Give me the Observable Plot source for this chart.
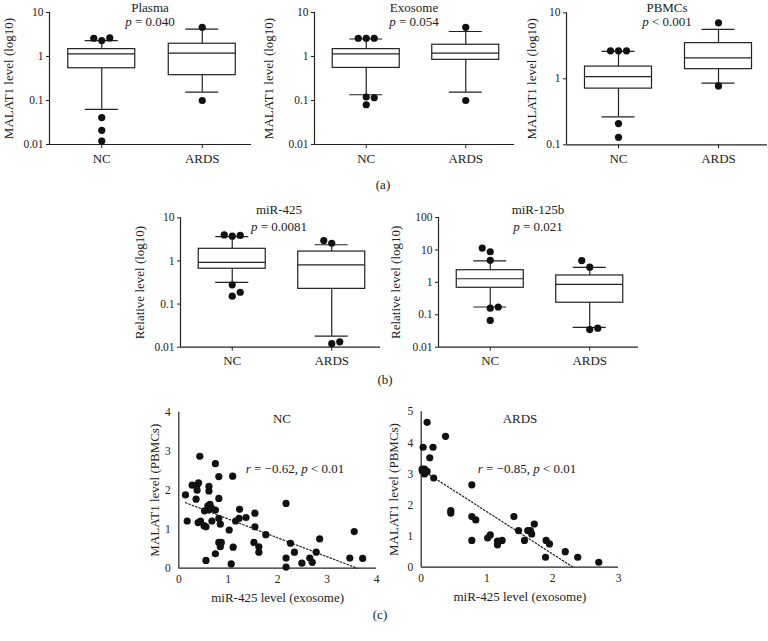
<!DOCTYPE html>
<html><head><meta charset="utf-8">
<script src="https://cdn.jsdelivr.net/npm/d3@7"></script>
<script src="https://cdn.jsdelivr.net/npm/@observablehq/plot@0.6"></script>
<style>
html,body{margin:0;padding:0;background:#fff;}
#chart{position:relative;width:768px;height:641px;overflow:hidden;font-family:"Liberation Serif","DejaVu Serif",serif;color:#222;background:#fff;}
#chart svg{position:absolute;left:0;top:0;}
#chart g[aria-label="y-axis tick label"]{font-size:11.5px;}
#chart svg.scat g[aria-label="x-axis tick label"]{font-size:11.5px;}
.lbl{position:absolute;transform:translate(-50%,-50%);white-space:nowrap;font-size:13px;line-height:1;color:#222;}
</style></head><body><div id="chart"></div>
<script>
// ---------- data ----------
const groups = ["NC", "ARDS"];
// box summaries per group: [lower whisker, Q1, median, Q3, upper whisker]
const plasmaBox   = [[0.063, 0.54, 1.15, 1.47, 2.3], [0.155, 0.376, 1.19, 1.95, 4.2]];
const plasmaOut   = [[2.3, 2.6, 2.65, 0.041, 0.021, 0.012], [4.6, 0.1]];
const exosomeBox  = [[0.135, 0.55, 1.15, 1.47, 2.5], [0.155, 0.84, 1.19, 1.85, 3.7]];
const exosomeOut  = [[2.6, 2.6, 2.6, 0.12, 0.115, 0.08], [4.6, 0.1]];
const pbmcBox     = [[0.265, 0.71, 1.08, 1.53, 2.6], [0.86, 1.4, 2.08, 3.47, 5.6]];
const pbmcOut     = [[2.65, 2.65, 2.65, 0.21, 0.13], [7.05, 0.78]];
const mir425Box   = [[0.32, 0.66, 0.93, 1.91, 3.68], [0.018, 0.225, 0.81, 1.65, 2.37]];
const mir425Out   = [[3.75, 4.0, 3.9, 0.28, 0.152, 0.188], [2.57, 2.97, 0.0121, 0.0133]];
const mir125bBox  = [[0.174, 0.68, 1.29, 2.37, 4.6], [0.041, 0.235, 0.86, 1.63, 2.88]];
const mir125bOut  = [[8.8, 11.4, 4.8, 0.16, 0.174, 0.067], [2.94, 4.7, 0.035, 0.0385]];

const ticksLog4 = [0.01, 0.1, 1, 10];
const ticksLog2 = [0.1, 1, 10];
const ticksLog5 = [0.01, 0.1, 1, 10, 100];

// scatter (c)
const ncX = [0.425,0.74,0.81,1.09,0.135,0.27,0.37,0.40,0.37,0.61,0.61,0.81,0.35,0.17,0.39,0.44,0.51,0.55,0.52,0.59,0.63,0.61,0.66,0.74,0.67,0.81,0.84,0.81,0.86,0.84,0.74,0.55,1.02,1.10,1.06,1.15,1.22,1.23,1.36,1.54,1.54,1.52,1.62,1.62,1.76,2.17,2.17,2.17,2.26,2.34,2.49,2.65,2.70,2.78,2.85,3.46,3.55,3.72];
const ncY = [2.87,2.68,2.35,2.36,1.88,2.13,2.13,2.19,2.0,2.1,1.98,1.79,1.77,1.21,1.17,1.21,1.09,1.06,1.47,1.60,1.64,1.49,1.54,1.49,1.21,1.28,1.13,0.66,0.66,0.55,0.37,0.20,0.98,0.54,0.11,1.21,1.28,1.51,1.30,1.41,1.06,0.66,0.55,0.41,0.86,1.66,0.26,0.03,0.64,0.41,0.13,0.26,0.15,0.41,0.75,0.26,0.94,0.25];
const ardsX = [0.09,0.37,0.03,0.18,0.13,0.015,0.05,0.09,0.05,0.19,0.015,0.066,0.77,0.45,0.45,0.77,0.83,0.77,1.01,1.05,1.16,1.16,1.23,1.41,1.48,1.57,1.62,1.66,1.68,1.72,1.90,1.95,1.89,2.19,2.38,2.70];
const ardsY = [4.66,4.21,3.86,3.86,3.52,3.16,3.16,3.08,3.0,2.87,3.1,3.05,2.65,1.82,1.74,1.63,1.52,0.86,0.94,1.04,0.84,0.72,0.86,1.63,1.18,0.86,1.18,1.18,1.07,1.39,0.86,0.75,0.32,0.50,0.32,0.16];
const ncFitX = [0.135, 3.61], ncFitY = [1.68, 0];
const ardsFitX = [0.12, 2.31], ardsFitY = [2.98, 0];

// ---------- layout ----------
const W = 768, H = 641;
const INK = "#222";
const FONT = '"Liberation Serif","DejaVu Serif",serif';
const chart = document.getElementById("chart");
const baseStyle = {fontFamily: FONT, fontSize: "13px", background: "transparent", color: "#222", overflow: "visible"};
const margins = f => ({marginLeft: f.left, marginRight: W - f.right, marginTop: f.top, marginBottom: H - f.bottom});

function boxPanel({frame, yDomain, yTicks, ylabel, labelOffset, box, out}) {
  const xDomain = [-0.52, 1.49];
  const unit = (frame.right - frame.left) / (xDomain[1] - xDomain[0]);
  const yS = d3.scaleLog().domain(yDomain).range([frame.bottom, frame.top]);
  const half = 33.5 / unit, cap = 16.5 / unit, step = 8 / unit;
  const stats = box.map((b, i) => ({i, lo: b[0], q1: b[1], med: b[2], q3: b[3], hi: b[4]}));
  const dots = [];
  out.forEach((vals, i) => {
    const placed = [];
    vals.forEach(v => {
      const py = yS(v);
      const dir = v > box[i][2] ? -1 : 1;
      let col = 0;
      for (const c of [0, dir, -dir, 2 * dir, -2 * dir]) {
        if (!placed.some(p => p.col === c && Math.abs(p.py - py) < 7)) { col = c; break; }
      }
      placed.push({col, py});
      dots.push({x: i + col * step, y: v});
    });
  });
  const line = {stroke: INK, strokeWidth: 1.2};
  return Plot.plot({
    width: W, height: H, ...margins(frame), style: baseStyle,
    x: {domain: xDomain, ticks: [0, 1], tickFormat: i => groups[i], tickSize: 4, tickPadding: 5, label: null},
    y: {type: "log", domain: yDomain, ticks: yTicks, tickFormat: d => String(d), tickSize: 3, tickPadding: 3,
        label: ylabel, labelAnchor: "center", labelOffset, labelArrow: "none"},
    marks: [
      Plot.ruleX([xDomain[0]], line),
      Plot.ruleY([yDomain[0]], line),
      Plot.ruleX(stats, {x: "i", y1: "q3", y2: "hi", ...line}),
      Plot.ruleX(stats, {x: "i", y1: "lo", y2: "q1", ...line}),
      Plot.ruleY(stats, {y: "hi", x1: d => d.i - cap, x2: d => d.i + cap, ...line}),
      Plot.ruleY(stats, {y: "lo", x1: d => d.i - cap, x2: d => d.i + cap, ...line}),
      Plot.rect(stats, {x1: d => d.i - half, x2: d => d.i + half, y1: "q1", y2: "q3", fill: "white", ...line}),
      Plot.ruleY(stats, {y: "med", x1: d => d.i - half, x2: d => d.i + half, ...line}),
      Plot.dot(dots, {x: "x", y: "y", r: 3.6, fill: "#111", stroke: "none"})
    ]
  });
}

function scatterPanel({frame, xDomain, yDomain, xs, ys, fx, fy, labelOffset}) {
  const pts = xs.map((x, i) => ({x, y: ys[i]}));
  const fit = fx.map((x, i) => ({x, y: fy[i]}));
  const line = {stroke: INK, strokeWidth: 1.2};
  const svg = Plot.plot({
    width: W, height: H, ...margins(frame), style: baseStyle,
    x: {domain: xDomain, ticks: d3.range(xDomain[0], xDomain[1] + 1), tickFormat: d => String(d), tickSize: 0, tickPadding: 7,
        label: "miR-425 level (exosome)", labelAnchor: "center", labelOffset: 34, labelArrow: "none"},
    y: {domain: yDomain, ticks: d3.range(yDomain[0], yDomain[1] + 1), tickFormat: d => String(d), tickSize: 0, tickPadding: 8,
        label: "MALAT1 level (PBMCs)", labelAnchor: "center", labelOffset, labelArrow: "none"},
    marks: [
      Plot.ruleX([xDomain[0]], line),
      Plot.ruleY([yDomain[0]], line),
      Plot.line(fit, {x: "x", y: "y", stroke: INK, strokeWidth: 1.2, strokeDasharray: "1.6,2"}),
      Plot.dot(pts, {x: "x", y: "y", r: 3.6, fill: "#111", stroke: "none"})
    ]
  });
  svg.classList.add("scat");
  return svg;
}

const panels = [
  boxPanel({frame: {left: 49, right: 251, top: 12, bottom: 144}, yDomain: [0.01, 10], yTicks: ticksLog4,
            ylabel: "MALAT1 level (log10)", labelOffset: 46, box: plasmaBox, out: plasmaOut}),
  boxPanel({frame: {left: 314, right: 514, top: 12, bottom: 144}, yDomain: [0.01, 10], yTicks: ticksLog4,
            ylabel: "MALAT1 level (log10)", labelOffset: 51, box: exosomeBox, out: exosomeOut}),
  boxPanel({frame: {left: 566, right: 767, top: 12.3, bottom: 144.3}, yDomain: [0.1, 10], yTicks: ticksLog2,
            ylabel: "MALAT1 level (log10)", labelOffset: 40, box: pbmcBox, out: pbmcOut}),
  boxPanel({frame: {left: 180, right: 380, top: 217.3, bottom: 346.7}, yDomain: [0.01, 10], yTicks: ticksLog4,
            ylabel: "Relative level (log10)", labelOffset: 46, box: mir425Box, out: mir425Out}),
  boxPanel({frame: {left: 438, right: 638, top: 217, bottom: 346.7}, yDomain: [0.01, 100], yTicks: ticksLog5,
            ylabel: "Relative level (log10)", labelOffset: 48, box: mir125bBox, out: mir125bOut}),
  scatterPanel({frame: {left: 178.3, right: 376, top: 411.7, bottom: 567.7}, xDomain: [0, 4], yDomain: [0, 4],
                xs: ncX, ys: ncY, fx: ncFitX, fy: ncFitY, labelOffset: 29}),
  scatterPanel({frame: {left: 420.7, right: 618, top: 411.3, bottom: 566.7}, xDomain: [0, 3], yDomain: [0, 5],
                xs: ardsX, ys: ardsY, fx: ardsFitX, fy: ardsFitY, labelOffset: 32})
];
panels.forEach(p => chart.appendChild(p));

// ---------- annotations ----------
const labels = [
  ["Plasma", 150, 6.5], ["<i>p</i> = 0.040", 150, 21],
  ["Exosome", 414, 6.5], ["<i>p</i> = 0.054", 414, 21],
  ["PBMCs", 667, 6.5], ["<i>p</i> &lt; 0.001", 667, 21],
  ["(a)", 383, 184],
  ["miR-425", 279, 209], ["<i>p</i> = 0.0081", 279, 226],
  ["miR-125b", 538, 209], ["<i>p</i> = 0.021", 538, 226],
  ["(b)", 385, 379],
  ["NC", 282, 418], ["<i>r</i> = \u22120.62, <i>p</i> &lt; 0.01", 295, 468],
  ["ARDS", 520, 418], ["<i>r</i> = \u22120.85, <i>p</i> &lt; 0.01", 527, 468],
  ["(c)", 380, 614]
];
for (const [html, x, y] of labels) {
  const d = document.createElement("div");
  d.className = "lbl";
  d.innerHTML = html;
  d.style.left = x + "px";
  d.style.top = y + "px";
  chart.appendChild(d);
}
</script></body></html>
